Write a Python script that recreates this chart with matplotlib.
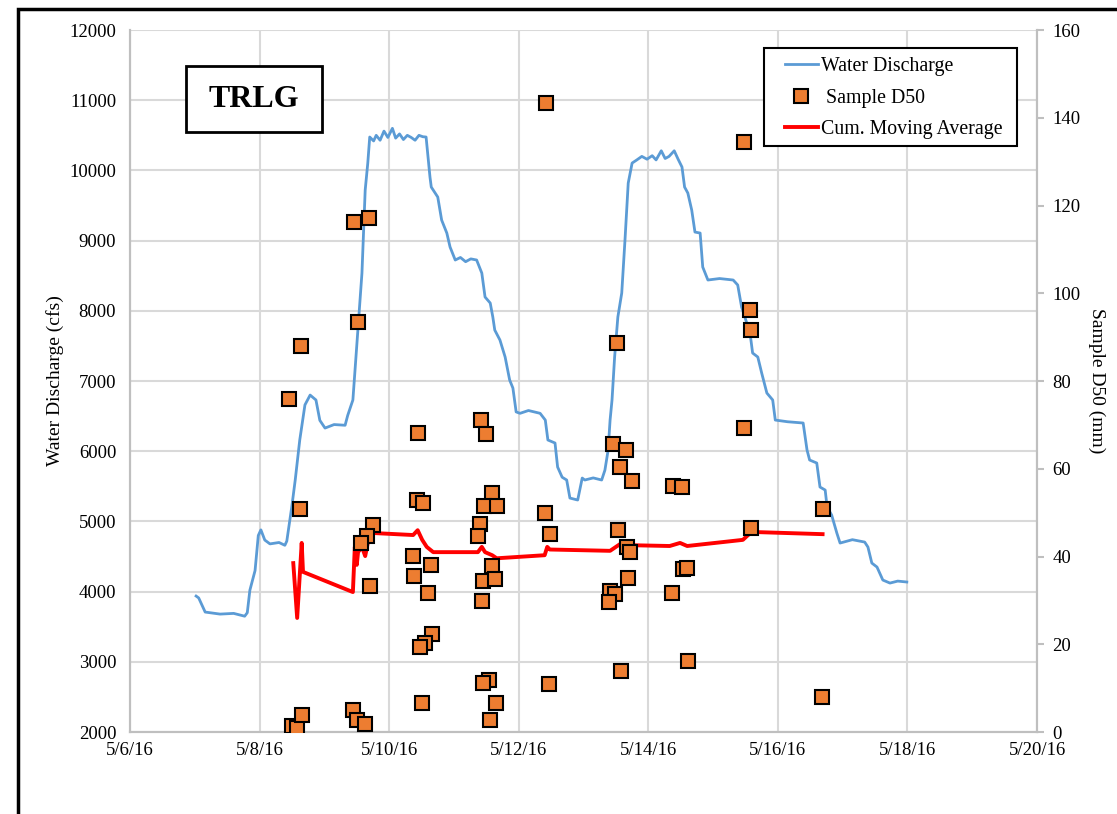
import datetime as dt
import matplotlib
matplotlib.use("Agg")
import matplotlib.pyplot as plt
from matplotlib.lines import Line2D
from matplotlib.patches import Rectangle

plt.rcParams['font.family'] = ['Liberation Serif', 'DejaVu Serif']

# ---- data (times as day-of-May 2016, fractional) ----
q_day = [7.02, 7.06, 7.16, 7.39, 7.60, 7.77, 7.81, 7.85, 7.93, 7.98, 8.02, 8.08, 8.16, 8.30, 8.39,
         8.42, 8.50, 8.55, 8.62, 8.70, 8.78, 8.87, 8.93, 9.01, 9.15, 9.32, 9.36, 9.44, 9.52, 9.58,
         9.63, 9.67, 9.70, 9.76, 9.80, 9.86, 9.92, 9.98, 10.05, 10.10, 10.16, 10.22, 10.28, 10.34,
         10.40, 10.46, 10.52, 10.57, 10.63, 10.65, 10.75, 10.81, 10.89, 10.94, 11.02, 11.10, 11.18,
         11.26, 11.35, 11.43, 11.48, 11.56, 11.60, 11.63, 11.71, 11.79, 11.86, 11.91, 11.96, 12.02,
         12.15, 12.33, 12.41, 12.45, 12.56, 12.60, 12.67, 12.74, 12.79, 12.91, 12.98, 13.02, 13.15,
         13.28, 13.33, 13.38, 13.41, 13.44, 13.48, 13.53, 13.59, 13.64, 13.69, 13.75, 13.82, 13.90,
         13.98, 14.06, 14.12, 14.20, 14.26, 14.32, 14.40, 14.46, 14.52, 14.56, 14.61, 14.67, 14.72,
         14.80, 14.84, 14.92, 15.10, 15.31, 15.38, 15.44, 15.49, 15.57, 15.61, 15.69, 15.75, 15.83,
         15.92, 15.96, 16.15, 16.39, 16.45, 16.49, 16.60, 16.65, 16.73, 16.76, 16.83, 16.91, 16.96,
         17.15, 17.34, 17.39, 17.45, 17.53, 17.62, 17.73, 17.85, 17.99]
q_cfs = [3937, 3910, 3709, 3680, 3690, 3650, 3700, 4020, 4300, 4800, 4880, 4735, 4680, 4700, 4660,
         4720, 5230, 5590, 6160, 6660, 6800, 6730, 6440, 6330, 6380, 6370, 6510, 6730, 7769, 8538,
         9720, 10105, 10476, 10420, 10500, 10430, 10560, 10470, 10600, 10460, 10520, 10440, 10500,
         10470, 10430, 10500, 10480, 10476, 9906, 9763, 9621, 9293, 9108, 8909, 8724, 8760, 8700,
         8740, 8724, 8538, 8197, 8111, 7912, 7726, 7584, 7342, 7014, 6900, 6560, 6540, 6580, 6540,
         6444, 6160, 6117, 5775, 5630, 5590, 5333, 5305, 5618, 5590, 5620, 5590, 5730, 6017, 6444,
         6730, 7342, 7912, 8254, 9008, 9820, 10105, 10148, 10200, 10160, 10210, 10150, 10280, 10170,
         10200, 10280, 10160, 10048, 9763, 9678, 9436, 9122, 9108, 8624, 8439, 8460, 8439, 8368,
         8054, 7912, 7684, 7399, 7342, 7114, 6829, 6730, 6444, 6420, 6402, 6017, 5875, 5832, 5490,
         5447, 5205, 5091, 4835, 4692, 4740, 4706, 4635, 4407, 4350, 4165, 4122, 4150, 4137]

d50_day = [8.45, 8.64, 8.62, 8.50, 8.58, 8.65, 9.46, 9.69, 9.52, 9.75, 9.66, 9.56, 9.70, 9.44, 9.50,
           9.63, 10.44, 10.43, 10.52, 10.37, 10.65, 10.38, 10.60, 10.66, 10.55, 10.48, 10.51, 11.42,
           11.49, 11.59, 11.46, 11.66, 11.40, 11.37, 11.59, 11.45, 11.63, 11.43, 11.54, 11.45, 11.65,
           11.56, 12.42, 12.40, 12.48, 12.47, 13.45, 13.65, 13.56, 13.75, 13.53, 13.67, 13.72, 13.69,
           13.41, 13.48, 13.39, 13.52, 13.58, 14.38, 14.52, 14.53, 14.60, 14.36, 14.61, 15.48, 15.48,
           15.58, 15.57, 15.58, 16.69, 16.68]
d50_mm = [76.0, 88.0, 50.8, 1.4, 0.9, 3.9, 116.3, 117.2, 93.4, 47.2, 44.7, 43.1, 33.3, 5.0, 2.7,
          1.8, 68.1, 52.9, 52.2, 40.1, 38.1, 35.6, 31.7, 22.3, 20.3, 19.4, 6.6, 71.1,
          67.9, 54.5, 51.5, 51.5, 47.4, 44.7, 37.8, 34.4, 34.9, 29.9, 11.9, 11.2, 6.6,
          2.7, 143.4, 49.9, 45.1, 10.9, 65.6, 64.3, 60.4, 57.2, 46.0, 42.2, 41.0, 35.1,
          32.1, 31.5, 29.6, 88.7, 13.9, 56.1, 55.8, 37.2, 37.4, 31.7, 16.2, 134.5, 69.3,
          46.5, 96.2, 91.6, 50.8, 8.0]

cma_day = [8.52, 8.58, 8.65, 8.67, 9.44, 9.47, 9.50, 9.52, 9.58, 9.63, 9.67, 9.70, 10.37, 10.44,
           10.51, 10.58, 10.68, 11.37, 11.43, 11.48, 11.59, 11.66, 12.40, 12.44, 12.48, 13.41, 13.56,
           13.67, 14.33, 14.49, 14.60, 15.46, 15.54, 15.61, 16.69]
cma_mm = [38.5, 26.0, 43.1, 36.5, 31.9, 42.2, 38.1, 41.0, 42.2, 40.1, 43.1, 45.4, 44.9, 46.0,
          43.8, 42.2, 41.0, 41.0, 42.2, 41.0, 40.3, 39.6, 40.3, 42.2, 41.6, 41.3, 42.8,
          42.6, 42.4, 43.1, 42.4, 43.8, 44.9, 45.6, 45.1]

x_tick_labels = ['5/6/16', '5/8/16', '5/10/16', '5/12/16', '5/14/16', '5/16/16', '5/18/16', '5/20/16']


def to_dt(days):
    base = dt.datetime(2016, 5, 1)
    return [base + dt.timedelta(days=d - 1) for d in days]


fig = plt.figure(figsize=(11.17, 8.14), dpi=100)
ax = fig.add_axes([0.1164, 0.1007, 0.8120, 0.8624])
ax2 = ax.twinx()

ax.set_zorder(1)
ax2.set_zorder(2)
ax.patch.set_visible(True)
ax2.patch.set_visible(False)

blue = '#5B9BD5'
orange = '#ED7D31'

ax.plot(to_dt(q_day), q_cfs, color=blue, lw=2.0, zorder=3)
ax2.plot(to_dt(cma_day), cma_mm, color='#FF0000', lw=2.8, zorder=3)
ax2.plot(to_dt(d50_day), d50_mm, ls='none', marker='s', ms=9.5, mfc=orange, mec='black',
         mew=1.5, zorder=4)

xstart = dt.datetime(2016, 5, 6)
xend = dt.datetime(2016, 5, 20)
ax.set_xlim(xstart, xend)
ax.set_ylim(2000, 12000)
ax2.set_ylim(0, 160)

ticks = [xstart + dt.timedelta(days=2 * i) for i in range(len(x_tick_labels))]
ax.set_xticks(ticks)
ax.set_xticklabels(x_tick_labels)
ax.set_yticks(range(2000, 12001, 1000))
ax2.set_yticks(range(0, 161, 20))

ax.grid(True, color='#D9D9D9', lw=1.5)
ax.set_axisbelow(True)

for a in (ax, ax2):
    for s in a.spines.values():
        s.set_color('#BFBFBF')
        s.set_linewidth(1.5)
    a.spines['top'].set_visible(False)

ax.tick_params(axis='both', length=0, labelsize=13.5, pad=10, colors='black')
ax.tick_params(axis='x', pad=7)
ax2.tick_params(axis='y', length=5, width=1.5, color='#BFBFBF', labelsize=13.5, pad=6,
                labelcolor='black')

ax.set_ylabel('Water Discharge (cfs)', fontsize=14, labelpad=4)
ax2.set_ylabel('Sample D50 (mm)', fontsize=14, rotation=270, labelpad=18)

# legend frame drawn separately
ax2.add_patch(Rectangle((0.699, 0.8348), 0.279, 0.1396, transform=ax2.transAxes,
                        fc='white', ec='black', lw=1.5, zorder=9))
handles = [Line2D([], [], color=blue, lw=2.0),
           Line2D([], [], ls='none', marker='s', ms=9.5, mfc=orange, mec='black', mew=1.5),
           Line2D([], [], color='#FF0000', lw=2.8)]
leg = ax2.legend(handles, ['Water Discharge', ' Sample D50', 'Cum. Moving Average'],
                 loc='center left', bbox_to_anchor=(0.7222, 0.9031), fontsize=14.3,
                 frameon=False, handlelength=1.65, handletextpad=0.15, borderpad=0,
                 labelspacing=0.62, borderaxespad=0)
leg.set_zorder(10)

# TRLG label box
ax2.add_patch(Rectangle((0.0617, 0.8547), 0.150, 0.094, transform=ax2.transAxes,
                        fc='white', ec='black', lw=2.0, zorder=9))
ax2.text(0.1367, 0.9017, 'TRLG', transform=ax2.transAxes, fontsize=23, fontweight='bold',
         ha='center', va='center', zorder=10)

# outer chart frame (top/left edges visible)
fig.patches.append(Rectangle((18 / 1117, -0.2), 1.5, 1.2 - 9 / 814, transform=fig.transFigure,
                             fill=False, ec='black', lw=2.5))

fig.savefig('out.png', dpi=100)
